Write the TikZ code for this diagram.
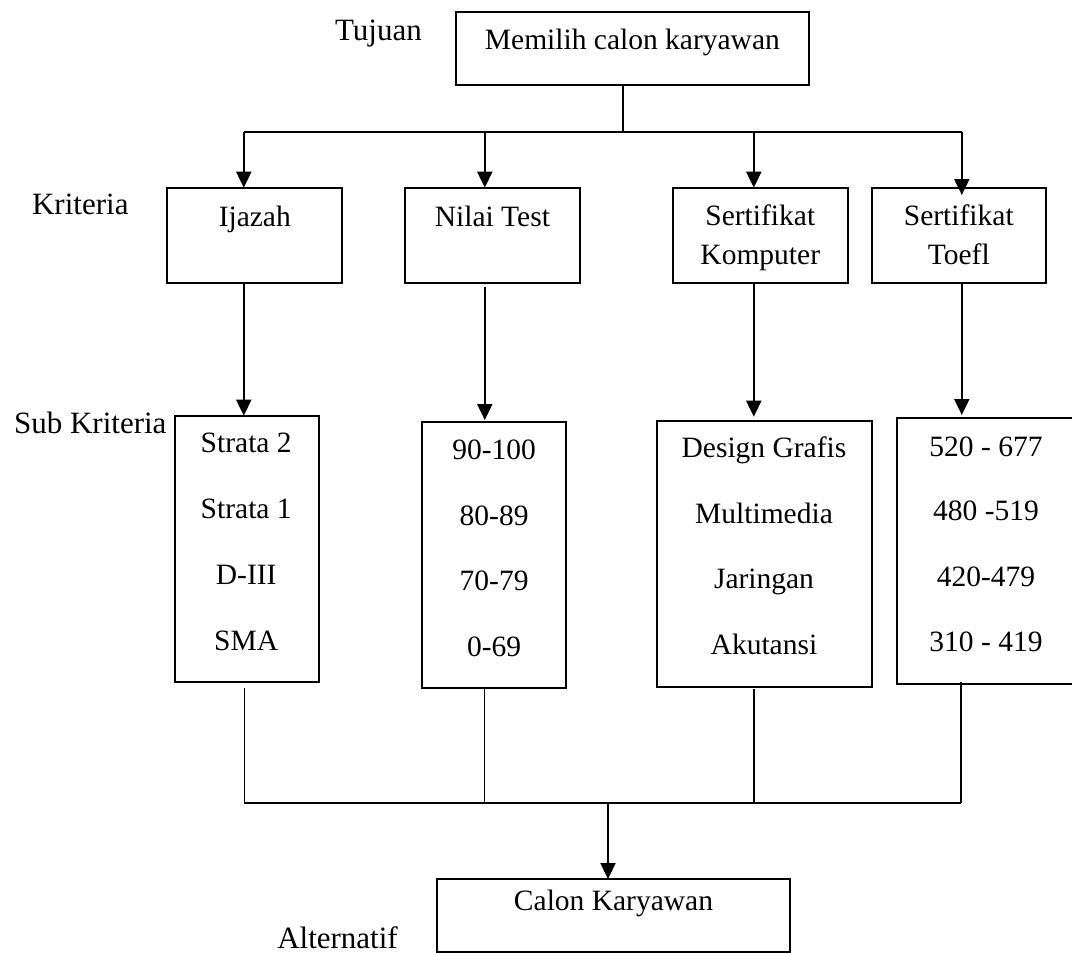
\documentclass[tikz,border=0pt]{standalone}
\usepackage{fontspec}
\setmainfont{Liberation Serif}
\usetikzlibrary{arrows.meta}
\begin{document}
\begin{tikzpicture}[x=1pt,y=-1pt,
  box/.style={draw, line width=2pt, inner sep=0pt, outer sep=0pt, rectangle},
  txt/.style={inner sep=0pt, anchor=base, font=\fontsize{29.5}{35}\selectfont},
  lbl/.style={inner sep=0pt, anchor=base, font=\fontsize{31}{37}\selectfont},
  conn/.style={line width=2pt},
  thinline/.style={line width=1.5pt},
  arr/.style={line width=2pt, -{Triangle[length=16pt,width=15pt]}}]
\useasboundingbox (0,0) rectangle (1072,953);

% boxes
\node[box, minimum width=353.3pt, minimum height=73.3pt] (goal) at (632.4,48.4) {};
\node[box, minimum width=174.6pt, minimum height=95pt] (ijazah) at (254.3,235.2) {};
\node[box, minimum width=174.7pt, minimum height=95pt] (nilai) at (492.4,235.2) {};
\node[box, minimum width=175.1pt, minimum height=95pt] (komputer) at (760.3,235.2) {};
\node[box, minimum width=174.1pt, minimum height=95pt] (toefl) at (958.6,235.2) {};
\node[box, minimum width=143.5pt, minimum height=266pt] (strata) at (246.8,548.7) {};
\node[box, minimum width=144.2pt, minimum height=266pt] (nilaisub) at (493.9,555.3) {};
\node[box, minimum width=214.9pt, minimum height=266pt] (design) at (764.5,553.7) {};
\node[box, minimum width=178pt, minimum height=266pt] (toeflsub) at (986,551.3) {};
\node[box, minimum width=353pt, minimum height=72.7pt] (calon) at (613.5,915.4) {};

% side labels
\node[lbl] (lTujuan) at (378.4,40.5) {Tujuan};
\node[lbl] (lKriteria) at (80.3,214.3) {Kriteria};
\node[lbl] (lSub) at (90.3,433.5) {Sub Kriteria};
\node[lbl] (lAlt) at (337.5,948) {Alternatif};

% box texts
\node[txt] (tGoal) at (632.4,49) {Memilih calon karyawan};
\node[txt] (tIjazah) at (254.8,226) {Ijazah};
\node[txt] (tNilai) at (492.4,226) {Nilai Test};
\node[txt] (tKom1) at (760.3,225) {Sertifikat};
\node[txt] (tKom2) at (760.3,264) {Komputer};
\node[txt] (tToe1) at (958.8,225) {Sertifikat};
\node[txt] (tToe2) at (958.8,264) {Toefl};

\node[txt] (s1) at (246.2,452.7) {Strata 2};
\node[txt] (s2) at (246.2,518.7) {Strata 1};
\node[txt] (s3) at (246.2,584.3) {D-III};
\node[txt] (s4) at (246.2,650) {SMA};

\node[txt] (n1) at (494.1,459.5) {90-100};
\node[txt] (n2) at (494.1,525.5) {80-89};
\node[txt] (n3) at (494.1,590.7) {70-79};
\node[txt] (n4) at (494.1,656) {0-69};

\node[txt] (d1) at (764,457.3) {Design Grafis};
\node[txt] (d2) at (764,523.5) {Multimedia};
\node[txt] (d3) at (764,588.3) {Jaringan};
\node[txt] (d4) at (764,654) {Akutansi};

\node[txt] (e1) at (986,456) {520 - 677};
\node[txt] (e2) at (986,520.7) {480 -519};
\node[txt] (e3) at (986,586.7) {420-479};
\node[txt] (e4) at (986,651.7) {310 - 419};

\node[txt] (tCalon) at (613.5,910) {Calon Karyawan};

% top bus
\coordinate (hub) at (623,131.7);
\coordinate (ba) at (243.8,131.7);
\coordinate (bb) at (484.8,131.7);
\coordinate (bc) at (753.8,131.7);
\coordinate (bd) at (961.8,131.7);
\draw[conn] (goal.south -| hub) -- (hub);
\draw[conn] (ba) -- (bd);
\draw[arr] (ba) -- (ba |- ijazah.north);
\draw[arr] (bb) -- (bb |- nilai.north);
\draw[arr] (bc) -- (bc |- komputer.north);
\draw[arr] (bd) -- ([yshift=-7.3pt]bd |- toefl.north);

% criteria to sub criteria
\draw[arr] (ijazah.south -| ba) -- (ba |- strata.north);
\draw[arr] ([yshift=-4pt]nilai.south -| bb) -- ([yshift=2.3pt]bb |- nilaisub.north);
\draw[arr] (komputer.south -| bc) -- ([yshift=4pt]bc |- design.north);
\draw[arr] (toefl.south -| bd) -- ([yshift=3.3pt]bd |- toeflsub.north);

% bottom bus
\coordinate (ma) at (244.4,803.3);
\coordinate (mb) at (484.7,803.3);
\coordinate (mc) at (754,803.3);
\coordinate (md) at (961,803.3);
\coordinate (mo) at (608,803.3);
\draw[thinline] ([yshift=-6.6pt]strata.south -| ma) -- (ma);
\draw[thinline] (nilaisub.south -| mb) -- (mb);
\draw[thinline] ([yshift=-2.3pt]design.south -| mc) -- (mc);
\draw[thinline] ([yshift=2.6pt]toeflsub.south -| md) -- (md);
\draw[conn] (ma) -- (md);
\draw[arr] (mo) -- (mo |- calon.north);
\end{tikzpicture}
\end{document}
